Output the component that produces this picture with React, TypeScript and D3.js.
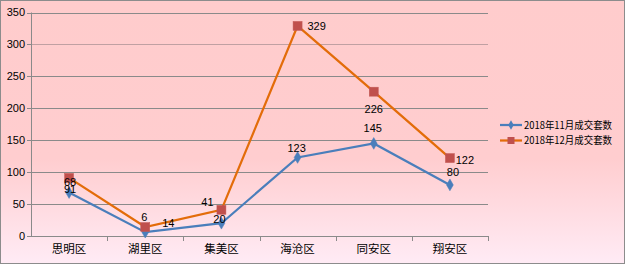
import React from "react";
import * as d3 from "d3";

const categories = ["思明区", "湖里区", "集美区", "海沧区", "同安区", "翔安区"];
const seriesNames = ["2018年11月成交套数", "2018年12月成交套数"];
const nov = [68, 6, 20, 123, 145, 80];
const dec = [91, 14, 41, 329, 226, 122];
const yTicks = [0, 50, 100, 150, 200, 250, 300, 350];

// label offsets (dx, dy) relative to point
const novLabelOff: [number, number][] = [[1, -10], [-1, -15], [-2, -4], [-1, -9], [-1, -15], [3, -13]];
const decLabelOff: [number, number][] = [[1, 11], [23, -4], [-14, -8], [19, 0], [0, 17], [15, 2]];

const W = 625, H = 264;
const X0 = 31, X1 = 488, Y0 = 236, Y1 = 12.5;

export default function App() {
  const x = d3.scaleBand<string>().domain(categories).range([X0, X1]);
  const y = d3.scaleLinear().domain([0, 350]).range([Y0, Y1]);
  const cx = (c: string) => (x(c) as number) + x.bandwidth() / 2;
  const line = d3.line<number>().x((_, i) => cx(categories[i])).y((v) => y(v));
  const blue = "#4A7EBB";
  const orange = "#E36C09";
  const red = "#C0504D";
  const numFont = "'Liberation Sans', sans-serif";
  const cjk = "'Noto Sans CJK SC', sans-serif";
  const diamond = d3.symbol().type(d3.symbolDiamond).size(40)() as string;
  const smallDiamond = d3.symbol().type(d3.symbolDiamond).size(26)() as string;

  return (
    <div style={{ position: "fixed", left: 0, top: 0 }}>
      <svg width={W} height={H} style={{ display: "block" }}>
        <defs>
          <linearGradient id="bg" x1="0" y1="0" x2="0" y2="1">
            <stop offset="0" stopColor="#FFCCCC" />
            <stop offset="0.6" stopColor="#FFCDCF" />
            <stop offset="1" stopColor="#FFEBF5" />
          </linearGradient>
        </defs>
        <rect x={0.5} y={0.5} width={W - 1} height={H - 1} fill="url(#bg)" stroke="#8C8C8C" />
        {yTicks.map((t) => (
          <g key={t}>
            {t > 0 && (
              <line x1={X0} x2={X1} y1={Math.round(y(t)) + 0.5} y2={Math.round(y(t)) + 0.5} stroke={t === 300 ? "#C0A0A2" : "#8A8A8A"} strokeWidth={1} />
            )}
            <line x1={X0 - 4} x2={X0} y1={Math.round(y(t)) + 0.5} y2={Math.round(y(t)) + 0.5} stroke="#8A8A8A" />
            <text x={X0 - 6} y={y(t)} dy="0.35em" textAnchor="end" fontFamily={numFont} fontSize={11} fill="#000">
              {t}
            </text>
          </g>
        ))}
        <line x1={X0 + 0.5} x2={X0 + 0.5} y1={Y1} y2={Y0} stroke="#8A8A8A" />
        <line x1={X0} x2={X1} y1={Y0 + 0.5} y2={Y0 + 0.5} stroke="#8A8A8A" />
        {categories.map((c, i) => (
          <line key={"t" + i} x1={Math.round((x(c) as number) + x.bandwidth()) + 0.5} x2={Math.round((x(c) as number) + x.bandwidth()) + 0.5} y1={Y0} y2={Y0 + 5} stroke="#8A8A8A" />
        ))}
        {categories.map((c) => (
          <text key={c} x={cx(c)} y={249} dy="0.35em" textAnchor="middle" fontFamily={cjk} fontSize={11.5} fill="#000">
            {c}
          </text>
        ))}
        <path d={line(dec) as string} fill="none" stroke={orange} strokeWidth={2.25} />
        <path d={line(nov) as string} fill="none" stroke={blue} strokeWidth={2.25} />
        {nov.map((v, i) => (
          <path key={"n" + i} d={diamond} transform={`translate(${cx(categories[i])},${y(v)})`} fill={blue} stroke={blue} strokeWidth={0.5} />
        ))}
        {dec.map((v, i) => (
          <rect key={"d" + i} x={cx(categories[i]) - 4.5} y={y(v) - 4.5} width={9} height={9} fill={red} stroke="#C45A57" strokeWidth={0.5} />
        ))}
        {nov.map((v, i) => (
          <text key={"nl" + i} x={cx(categories[i]) + novLabelOff[i][0]} y={y(v) + novLabelOff[i][1]} dy="0.35em" textAnchor="middle" fontFamily={numFont} fontSize={11} fill="#000">
            {v}
          </text>
        ))}
        {dec.map((v, i) => (
          <text key={"dl" + i} x={cx(categories[i]) + decLabelOff[i][0]} y={y(v) + decLabelOff[i][1]} dy="0.35em" textAnchor="middle" fontFamily={numFont} fontSize={11} fill="#000">
            {v}
          </text>
        ))}
        {seriesNames.map((s, i) => {
          const ly = 125 + i * 15.5;
          return (
            <g key={s}>
              <line x1={500} x2={522} y1={ly} y2={ly} stroke={i === 0 ? blue : orange} strokeWidth={2.25} />
              {i === 0 ? (
                <path d={smallDiamond} transform={`translate(511,${ly})`} fill={blue} />
              ) : (
                <rect x={507.5} y={ly - 3.5} width={7} height={7} fill={red} />
              )}
              <text x={524} y={ly} dy="0.35em" fontFamily={cjk} fontSize={10} textLength={88} lengthAdjust="spacingAndGlyphs" fill="#000">
                {s}
              </text>
            </g>
          );
        })}
      </svg>
    </div>
  );
}
